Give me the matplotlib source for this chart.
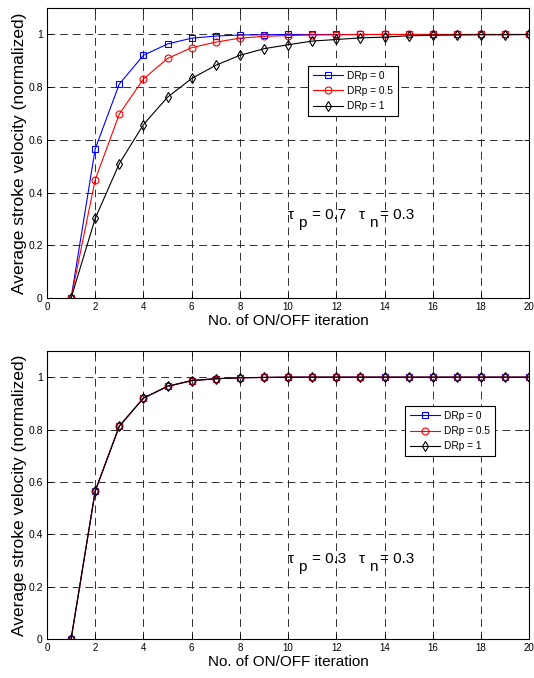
import matplotlib.pyplot as plt
from matplotlib.transforms import offset_copy

plt.rcParams['font.family'] = ['Liberation Sans', 'DejaVu Sans']

iters = list(range(1, 21))

# tau_p = 0.7, tau_n = 0.3
top_dr0 = [0, 0.566, 0.812, 0.921, 0.964, 0.986, 0.994, 0.998, 0.999, 1.0,
           1.0, 1.0, 1.0, 1.0, 1.0, 1.0, 1.0, 1.0, 1.0, 1.0]
top_dr05 = [0, 0.449, 0.698, 0.831, 0.909, 0.950, 0.971, 0.986, 0.993, 0.996,
            0.998, 0.999, 1.0, 1.0, 1.0, 1.0, 1.0, 1.0, 1.0, 1.0]
top_dr1 = [0, 0.302, 0.510, 0.658, 0.762, 0.833, 0.883, 0.921, 0.946, 0.961,
           0.975, 0.981, 0.987, 0.990, 0.995, 0.997, 0.998, 0.999, 0.999, 1.0]

# tau_p = 0.3, tau_n = 0.3 (all three curves coincide)
bot_dr0 = [0, 0.565, 0.813, 0.920, 0.965, 0.987, 0.994, 0.998, 0.999, 1.0,
           1.0, 1.0, 1.0, 1.0, 1.0, 1.0, 1.0, 1.0, 1.0, 1.0]
bot_dr05 = list(bot_dr0)
bot_dr1 = list(bot_dr0)

labels = ['DRp = 0', 'DRp = 0.5', 'DRp = 1']
colors = ['#0000ff', '#ff0000', '#000000']
markers = ['s', 'o', 'd']
msizes = [5, 5, 5.5]
xticks = list(range(0, 21, 2))
yticks = [0, 0.2, 0.4, 0.6, 0.8, 1]
ytick_labels = ['0', '0.2', '0.4', '0.6', '0.8', '1']

panels = [
    ([top_dr0, top_dr05, top_dr1], '0.7', 0.30,
     [0.088, 0.5605, 0.903, 0.4275], (0.635, 0.714)),
    ([bot_dr0, bot_dr05, bot_dr1], '0.3', 0.29,
     [0.088, 0.0575, 0.903, 0.4248], (0.836, 0.722)),
]

fig = plt.figure(figsize=(5.34, 6.78), dpi=100)

for series, taup, ty, rect, leg_anchor in panels:
    ax = fig.add_axes(rect)
    for ys, lab, c, m, ms in zip(series, labels, colors, markers, msizes):
        ax.plot(iters, ys, '-', color=c, marker=m, markersize=ms,
                markerfacecolor='none', markeredgecolor=c, markeredgewidth=0.8,
                linewidth=0.8, label=lab)
    ax.set_xlim(0, 20)
    ax.set_ylim(0, 1.1)
    ax.set_xticks(xticks)
    ax.set_yticks(yticks)
    ax.set_yticklabels(ytick_labels)
    ax.tick_params(direction='in', length=3.5, width=0.6, top=True, right=True)
    ax.tick_params(axis='x', labelsize=7, pad=3)
    ax.tick_params(axis='y', labelsize=7.5, pad=3)
    ax.grid(True, color='#303030', linestyle=(0, (8, 5)), linewidth=0.7)
    for sp in ax.spines.values():
        sp.set_linewidth(0.8)
    ax.set_xlabel('No. of ON/OFF iteration', fontsize=11, labelpad=1)
    ax.set_ylabel('Average stroke velocity (normalized)', fontsize=12.5, labelpad=1)

    # annotation: tau_p = .., tau_n = .. (MATLAB-style wide subscripts)
    pieces = [('\u03c4', 0, 0), ('p', 7.5, -5.5), ('= ' + taup, 17.5, 0),
              ('\u03c4', 51, 0), ('n', 58.5, -5.5), ('= 0.3', 66, 0)]
    for s, dx, dy in pieces:
        tr = offset_copy(ax.transData, fig=fig, x=dx, y=dy, units='points')
        ax.text(10.0, ty, s, transform=tr, fontsize=11, va='baseline', ha='left')

    leg = ax.legend(loc='center', bbox_to_anchor=leg_anchor, fontsize=7.3,
                    fancybox=False, edgecolor='black', framealpha=1,
                    handlelength=3.0, handletextpad=0.4, borderpad=0.45,
                    labelspacing=0.5, borderaxespad=0)
    leg.get_frame().set_linewidth(0.8)

plt.savefig('out.png', dpi=100)
